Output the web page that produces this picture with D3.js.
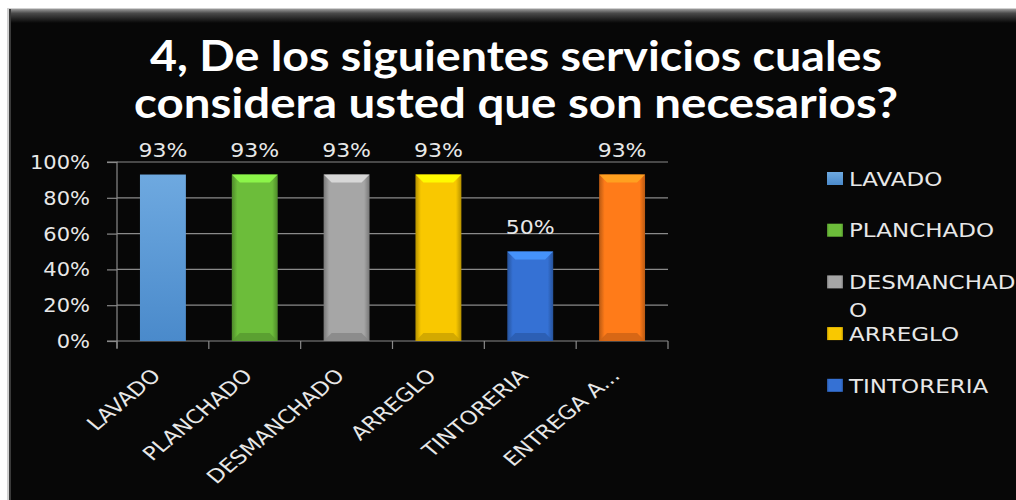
<!DOCTYPE html>
<html>
<head>
<meta charset="utf-8">
<script src="https://cdn.jsdelivr.net/npm/d3@7"></script>
<style>
  body { margin: 0; background: #fff; }
  svg { display: block; }
  text { font-family: "DejaVu Sans", "Open Sans", sans-serif; }
</style>
</head>
<body>
<div id="myChart"></div>
<script>
// chart data
var categories = ["LAVADO", "PLANCHADO", "DESMANCHADO", "ARREGLO", "TINTORERIA", "ENTREGA A..."];
var values = [0.93, 0.93, 0.93, 0.93, 0.50, 0.93];
var yTicks = [0, 0.2, 0.4, 0.6, 0.8, 1.0];
var titleLines = ["4, De los siguientes servicios cuales", "considera usted que son necesarios?"];
var legendCount = 5; // the last entry is cut off in the original

var colors = ["#5a9bdc", "#6cbd3a", "#a6a6a6", "#f9c800", "#3571d4", "#ff7b19"];

let svgWidth = 1016;
let svgHeight = 500;
let svg = d3.select("#myChart").append("svg")
  .attr("width", svgWidth)
  .attr("height", svgHeight);

var defs = svg.append("defs");
var stretch = 1.15; // the original picture is a bit wider than tall

// black panel with a bevelled top edge
var topGrad = defs.append("linearGradient").attr("id", "topBevel")
  .attr("x1", 0).attr("y1", 0).attr("x2", 0).attr("y2", 1);
topGrad.append("stop").attr("offset", "0%").attr("stop-color", "#9a9a9a");
topGrad.append("stop").attr("offset", "30%").attr("stop-color", "#4a4a4a");
topGrad.append("stop").attr("offset", "100%").attr("stop-color", "#070707");

svg.append("rect").attr("x", 7).attr("y", 8).attr("width", svgWidth).attr("height", svgHeight)
  .attr("fill", "#d0d0d0");
svg.append("rect").attr("x", 9).attr("y", 9).attr("width", svgWidth).attr("height", svgHeight)
  .attr("fill", "#070707");
svg.append("rect").attr("x", 9).attr("y", 9).attr("width", svgWidth).attr("height", 14)
  .attr("fill", "url(#topBevel)");
svg.append("line").attr("x1", 10).attr("x2", 10).attr("y1", 9).attr("y2", svgHeight)
  .attr("stroke", "#3a3a3a").attr("stroke-width", 2);

// title, squeezed horizontally to match the narrow face
var titleWidths = [732, 764];
var titleY = [71, 118];
titleLines.forEach(function(line, i) {
  let t = svg.append("text")
    .attr("text-anchor", "middle")
    .attr("font-size", 42)
    .attr("font-weight", "bold")
    .attr("fill", "#ffffff")
    .style("font-family", "Lato, 'Open Sans', sans-serif")
    .text(line);
  let len = t.node().getComputedTextLength();
  t.attr("transform", "translate(516," + titleY[i] + ") scale(" + (titleWidths[i] / len) + ",1)");
});

// scales
var plotLeft = 117, plotRight = 668, plotTop = 162, plotBottom = 341;
var x = d3.scaleBand()
  .domain(categories)
  .range([plotLeft, plotRight])
  .paddingInner(0.5)
  .paddingOuter(0.25);
var y = d3.scaleLinear().domain([0, 1]).range([plotBottom, plotTop]);

// gridlines
svg.append("g")
  .selectAll("line")
  .data(yTicks.slice(1))
  .enter()
  .append("line")
  .attr("x1", plotLeft).attr("x2", plotRight)
  .attr("y1", function(d) { return y(d); })
  .attr("y2", function(d) { return y(d); })
  .attr("stroke", "#8a8a8a")
  .attr("stroke-width", 1.2);

// y axis
var yAxis = svg.append("g")
  .attr("transform", "translate(" + plotLeft + ",0)")
  .call(d3.axisLeft(y).tickValues(yTicks).tickFormat(d3.format(".0%")).tickSize(10).tickPadding(17));
yAxis.select(".domain").attr("stroke", "#8a8a8a").attr("stroke-width", 1.2)
  .attr("d", "M-10," + plotTop + "H0V" + (plotBottom + 7));
yAxis.selectAll(".tick line").attr("stroke", "#8a8a8a").attr("stroke-width", 1.2);
yAxis.selectAll(".tick text")
  .attr("fill", "#e8e8e8")
  .attr("font-size", 20)
  .attr("transform", "translate(-27,0) scale(1.05,1) translate(27,0)")
  .style("font-family", "'DejaVu Sans', sans-serif");

// x axis baseline and category boundary ticks
svg.append("line")
  .attr("x1", plotLeft - 10).attr("x2", plotRight)
  .attr("y1", plotBottom).attr("y2", plotBottom)
  .attr("stroke", "#8a8a8a").attr("stroke-width", 1.2);
var step = x.step();
var bounds = categories.map(function(c) { return x(c) - step * 0.25; }).concat([plotRight]);
svg.append("g")
  .selectAll("line")
  .data(bounds)
  .enter()
  .append("line")
  .attr("x1", function(d) { return d; }).attr("x2", function(d) { return d; })
  .attr("y1", plotBottom).attr("y2", plotBottom + 8)
  .attr("stroke", "#8a8a8a").attr("stroke-width", 1.2);

// bar gradients (bevelled look)
colors.forEach(function(c, i) {
  let base = d3.color(c);
  let g = defs.append("linearGradient").attr("id", "side" + i)
    .attr("x1", 0).attr("y1", 0).attr("x2", 1).attr("y2", 0);
  if (i === 0) {
    g.attr("x2", 0).attr("y2", 1);
    g.append("stop").attr("offset", "0%").attr("stop-color", "#6ea9e0");
    g.append("stop").attr("offset", "100%").attr("stop-color", "#4a8acb");
    return;
  }
  g.append("stop").attr("offset", "0%").attr("stop-color", base.darker(0.9));
  g.append("stop").attr("offset", "12%").attr("stop-color", base);
  g.append("stop").attr("offset", "88%").attr("stop-color", base);
  g.append("stop").attr("offset", "100%").attr("stop-color", base.darker(0.9));
});

var bars = svg.append("g")
  .selectAll("g")
  .data(categories)
  .enter()
  .append("g");

bars.append("rect")
  .attr("x", function(d) { return x(d); })
  .attr("y", function(d, i) { return y(values[i]); })
  .attr("width", x.bandwidth())
  .attr("height", function(d, i) { return plotBottom - y(values[i]); })
  .attr("fill", function(d, i) { return "url(#side" + i + ")"; });

// top highlight and bottom shade for the bevelled bars
bars.filter(function(d, i) { return i > 0; })
  .append("path")
  .attr("d", function(d) {
    let i = categories.indexOf(d);
    let x0 = x(d), x1 = x(d) + x.bandwidth(), t = y(values[i]), b = 8;
    return "M" + x0 + "," + t + "H" + x1 + "L" + (x1 - b) + "," + (t + b) + "H" + (x0 + b) + "Z";
  })
  .attr("fill", function(d) { return d3.color(colors[categories.indexOf(d)]).brighter(0.8); })
  .attr("opacity", 0.9);
bars.filter(function(d, i) { return i > 0; })
  .append("path")
  .attr("d", function(d) {
    let x0 = x(d), x1 = x(d) + x.bandwidth(), b = 8;
    return "M" + x0 + "," + plotBottom + "H" + x1 + "L" + (x1 - b) + "," + (plotBottom - b) + "H" + (x0 + b) + "Z";
  })
  .attr("fill", function(d) { return d3.color(colors[categories.indexOf(d)]).darker(0.6); })
  .attr("opacity", 0.8);

// value labels
svg.append("g")
  .selectAll("text")
  .data(categories)
  .enter()
  .append("text")
  .attr("transform", function(d, i) {
    return "translate(" + (x(d) + x.bandwidth() / 2) + "," + (y(values[i]) - 18) + ") scale(1.1,1)";
  })
  .attr("text-anchor", "middle")
  .attr("font-size", 20)
  .attr("fill", "#e8e8e8")
  .text(function(d, i) { return d3.format(".0%")(values[i]); });

// rotated category labels
svg.append("g")
  .selectAll("text")
  .data(categories)
  .enter()
  .append("text")
  .attr("transform", function(d) {
    return "translate(" + (x(d) + x.bandwidth() / 2 - 1) + "," + 377 + ") scale(1.2,1) rotate(-45)";
  })
  .attr("text-anchor", "end")
  .attr("font-size", 19)
  .attr("fill", "#e8e8e8")
  .text(function(d) { return d; });

// legend
var legendX = 827, legendTop = 178.5, legendStep = 51.7, legendMax = 1016 - 843;
var legend = svg.append("g")
  .selectAll("g")
  .data(categories.slice(0, legendCount))
  .enter()
  .append("g")
  .attr("transform", function(d, i) { return "translate(" + legendX + "," + (legendTop + i * legendStep) + ")"; });

legend.append("rect")
  .attr("x", 0).attr("y", -6.5)
  .attr("width", 16).attr("height", 13)
  .attr("fill", function(d, i) { return "url(#side" + i + ")"; });

legend.append("text")
  .attr("transform", "translate(22,0) scale(" + stretch + ",1)")
  .attr("y", 0)
  .attr("dy", "0.36em")
  .attr("font-size", 20)
  .attr("fill", "#e8e8e8")
  .each(function(d) {
    // break long names onto a second line like the original
    let el = d3.select(this);
    let tspan = el.append("tspan").attr("x", 0).text(d);
    let cut = d.length;
    while (tspan.node().getComputedTextLength() * stretch > legendMax && cut > 1) {
      cut--;
      tspan.text(d.slice(0, cut));
    }
    if (cut < d.length) {
      el.append("tspan").attr("x", 0).attr("dy", 28).text(d.slice(cut));
    }
  });
</script>
</body>
</html>
